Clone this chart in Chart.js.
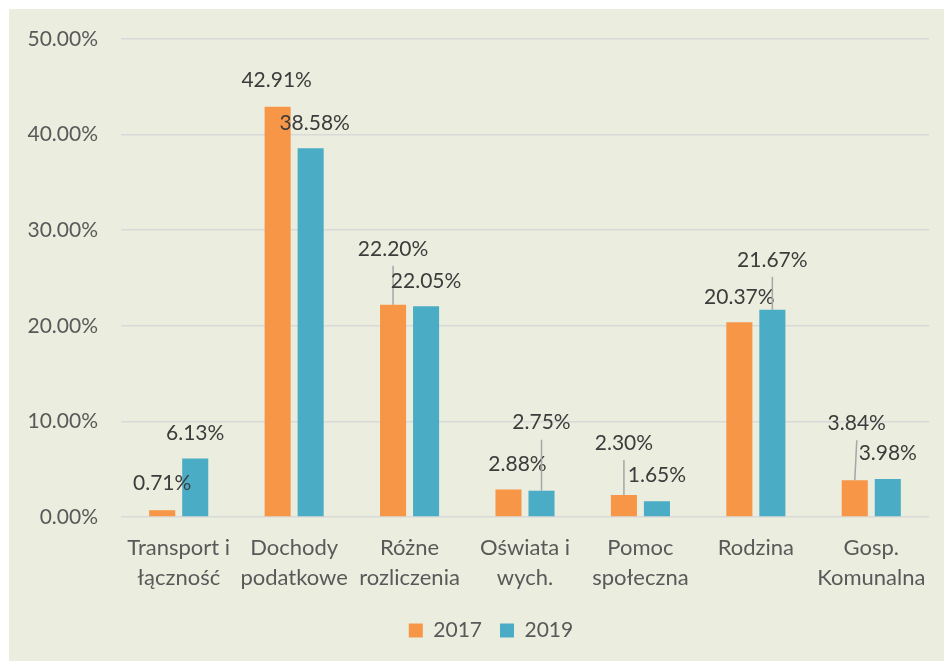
<!DOCTYPE html>
<html lang="pl">
<head>
<meta charset="utf-8">
<title>Struktura wydatków 2017 i 2019</title>
<script src="https://cdn.jsdelivr.net/npm/chart.js@4.4.1/dist/chart.umd.min.js"></script>
<style>
  html, body { margin: 0; padding: 0; background: #ffffff; }
  #wrap {
    position: absolute;
    left: 9px;
    top: 9px;
    width: 935px;
    height: 652px;
    background: #ebeedf;
  }
</style>
</head>
<body>
<div id="wrap"><canvas id="chart"></canvas></div>
<script>
  var categories = [
    ['Transport i', 'łączność'],
    ['Dochody', 'podatkowe'],
    ['Różne', 'rozliczenia'],
    ['Oświata i', 'wych.'],
    ['Pomoc', 'społeczna'],
    'Rodzina',
    ['Gosp.', 'Komunalna']
  ];
  var seriesNames = ['2017', '2019'];
  var values2017 = [0.71, 42.91, 22.20, 2.88, 2.30, 20.37, 3.84];
  var values2019 = [6.13, 38.58, 22.05, 2.75, 1.65, 21.67, 3.98];

  // where each value label sits relative to the top of its bar (px),
  // and whether a leader line joins it back to the bar
  var labelShift2017 = [[0, -27], [-1, -27], [0, -56], [9, -25], [0, -52], [0, -25], [2, -57]];
  var labelShift2019 = [[0, -25], [4, -25], [0, -25], [0, -68], [0, -26], [0, -50], [0, -26]];
  var leader2017 = [false, false, true, false, true, false, true];
  var leader2019 = [false, false, false, true, false, true, false];

  var FONT = 'Lato, "Open Sans", sans-serif';
  var AXIS_TEXT = '#595959';
  var LABEL_TEXT = '#3c3c3c';

  function pct(v) {
    return v.toFixed(2) + '%';
  }

  var valueLabels = {
    id: 'valueLabels',
    afterDatasetsDraw: function(chart) {
      var ctx = chart.ctx;
      var shifts = [labelShift2017, labelShift2019];
      var leaders = [leader2017, leader2019];
      ctx.save();
      ctx.font = '21px ' + FONT;
      ctx.textAlign = 'center';
      ctx.textBaseline = 'middle';
      chart.data.datasets.forEach(function(ds, di) {
        var meta = chart.getDatasetMeta(di);
        meta.data.forEach(function(bar, i) {
          var lx = bar.x + shifts[di][i][0];
          var ly = bar.y + shifts[di][i][1];
          if (leaders[di][i]) {
            ctx.strokeStyle = '#a6a6a6';
            ctx.lineWidth = 1.5;
            ctx.beginPath();
            ctx.moveTo(lx, ly + 17);
            ctx.lineTo(bar.x, bar.y);
            ctx.stroke();
          }
          ctx.fillStyle = LABEL_TEXT;
          ctx.fillText(pct(ds.data[i]), lx, ly);
        });
      });
      ctx.restore();
    }
  };

  // the legend sits a little right of the canvas centre
  var legendNudge = {
    id: 'legendNudge',
    afterLayout: function(chart) {
      if (chart.legend) {
        chart.legend.left += 22;
        chart.legend.right += 22;
      }
    }
  };

  new Chart(document.getElementById('chart'), {
    type: 'bar',
    data: {
      labels: categories,
      datasets: [{
        label: seriesNames[0],
        data: values2017,
        backgroundColor: '#f79646',
        categoryPercentage: 0.572,
        barPercentage: 0.79
      }, {
        label: seriesNames[1],
        data: values2019,
        backgroundColor: '#4bacc6',
        categoryPercentage: 0.572,
        barPercentage: 0.79
      }]
    },
    options: {
      responsive: true,
      maintainAspectRatio: false,
      animation: false,
      layout: { padding: { top: 30, right: 15, left: 0, bottom: 10 } },
      plugins: {
        tooltip: { enabled: false },
        legend: {
          position: 'bottom',
          labels: {
            boxWidth: 14,
            boxHeight: 14,
            padding: 18,
            color: AXIS_TEXT,
            font: { family: FONT, size: 21 }
          }
        }
      },
      scales: {
        x: {
          grid: { display: false },
          border: { display: false },
          ticks: {
            color: AXIS_TEXT,
            padding: 8,
            maxRotation: 0,
            autoSkip: false,
            font: { family: FONT, size: 22, lineHeight: 1.36 }
          },
          afterFit: function(scale) { scale.height = 85; }
        },
        y: {
          min: 0,
          max: 50,
          border: { display: false },
          grid: { color: '#d9d9d9', lineWidth: 1.5, drawTicks: false },
          ticks: {
            stepSize: 10,
            color: AXIS_TEXT,
            padding: 23,
            font: { family: FONT, size: 21 },
            callback: function(v) { return pct(v); }
          },
          afterFit: function(scale) {
            scale.width = 112;
            // tick padding should only space labels from the plot, not pad top/bottom
            scale.paddingTop = 0;
            scale.paddingBottom = 0;
          }
        }
      }
    },
    plugins: [valueLabels, legendNudge]
  });
</script>
</body>
</html>
